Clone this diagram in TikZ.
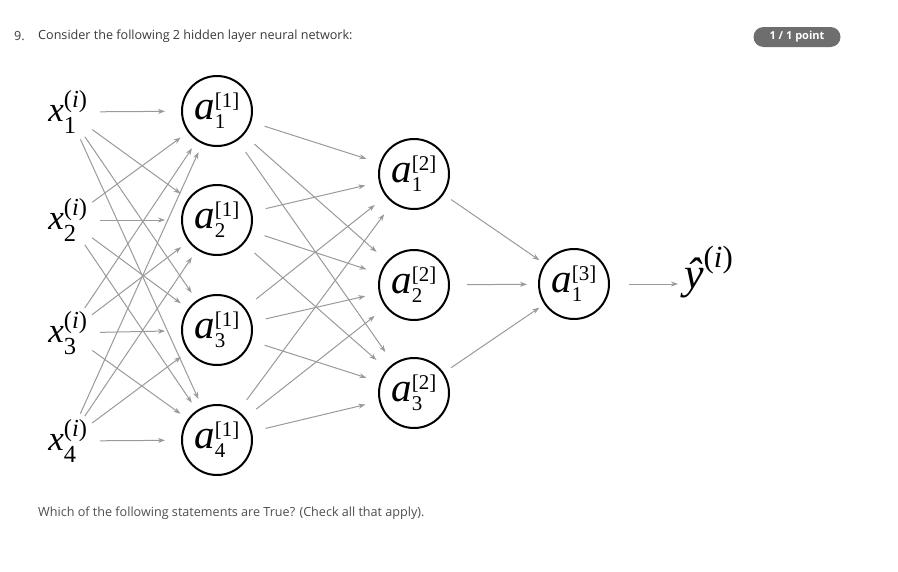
\documentclass[tikz,border=0pt]{standalone}
\usepackage{amsmath}
\usepackage{fontspec}
\setmainfont{Liberation Serif}
\newfontfamily\uifont{Open Sans}
\newfontfamily\labfont{Liberation Serif}
\usetikzlibrary{arrows.meta}
\DeclareMathSizes{41}{41}{21}{16}
\DeclareMathSizes{34}{34}{19}{14}
\DeclareMathSizes{42}{42}{24}{18}
\definecolor{arrowgray}{HTML}{9A9A9A}
\definecolor{uigray}{HTML}{3A3A3A}
\definecolor{uigraylight}{HTML}{4E4E4E}
\definecolor{badgegray}{HTML}{6E6E6E}
\newcommand\hidlab[2]{\fontsize{41}{44}\labfont\selectfont$\text{\labfont\itshape a}_{\text{\labfont #1}}^{\text{\labfont [#2]}}$}
\newcommand\inplab[1]{\fontsize{35}{38}\labfont\selectfont$\text{\labfont\itshape x}_{\text{\labfont #1}}^{\text{\labfont (\itshape i\upshape)}}$}
\begin{document}
\begin{tikzpicture}[x=1pt,y=-1pt,
  neuron/.style={circle,draw=black,line width=2pt,minimum size=70pt,inner sep=0pt},
  inputlab/.style={inner sep=0pt},
  conn/.style={draw=arrowgray,line width=1pt,-{Stealth[length=7pt,width=5pt]}},
  uitext/.style={anchor=west,inner sep=0pt,text=uigray,font=\uifont\fontsize{12.6}{15}\selectfont}]
\fill[white] (0,0) rectangle (898,571);
\useasboundingbox (0,0) rectangle (898,571);

% header
\node[uitext] (num) at (14,36) {9.};
\node[uitext] (ques) at (38,36) {Consider the following 2 hidden layer neural network:};
\node[fill=badgegray,rounded corners=10pt,minimum width=87pt,minimum height=20pt,inner sep=0pt,
      text=white,font=\uifont\bfseries\fontsize{11}{13}\selectfont] (pts) at (797,37) {1 / 1 point};
\node[uitext,text=uigraylight] (ques2) at (38,513) {Which of the following statements are True? (Check all that apply).};

% inputs
\node[inputlab] (x1) at (68,112) {\inplab{1}};
\node[inputlab] (x2) at (68,220) {\inplab{2}};
\node[inputlab] (x3) at (68,333) {\inplab{3}};
\node[inputlab] (x4) at (68,441) {\inplab{4}};

% layer 1
\node[neuron] (h1) at (217,111) {\hidlab{1}{1}};
\node[neuron] (h2) at (217,220) {\hidlab{2}{1}};
\node[neuron] (h3) at (217,330) {\hidlab{3}{1}};
\node[neuron] (h4) at (217,440) {\hidlab{4}{1}};

% layer 2
\node[neuron] (g1) at (414,174) {\hidlab{1}{2}};
\node[neuron] (g2) at (414,285) {\hidlab{2}{2}};
\node[neuron] (g3) at (414,393) {\hidlab{3}{2}};

% layer 3
\node[neuron] (o1) at (574,284) {\hidlab{1}{3}};

% output
\node[inputlab,anchor=west] (yhat) at (684,272) {\fontsize{44}{46}\labfont\selectfont$\text{\labfont\itshape ŷ}^{\text{\labfont (\itshape i\upshape)}}$};

% input -> layer 1
\foreach \i in {1,...,4}{
  \foreach \j in {1,...,4}{
    \ifnum\i=\j
      \draw[conn,shorten <=32pt,shorten >=52pt] (x\i.center) -- (h\j.center);
    \else
      \draw[conn,shorten <=30pt,shorten >=45pt] (x\i.center) -- (h\j.center);
    \fi
  }
}

% layer 1 -> layer 2
\foreach \i in {1,...,4}{
  \foreach \j in {1,...,3}{
    \draw[conn,shorten <=50pt,shorten >=50pt] (h\i.center) -- (g\j.center);
  }
}

% layer 2 -> layer 3
\draw[conn,shorten <=45pt,shorten >=42pt] (g1.center) -- (o1.center);
\draw[conn,shorten <=53pt,shorten >=47pt] (g2.center) -- (o1.center);
\draw[conn,shorten <=45pt,shorten >=42pt] (g3.center) -- (o1.center);

% layer 3 -> output
\draw[conn,shorten <=55pt,shorten >=6pt] (o1.center) -- (o1.center -| yhat.west);
\end{tikzpicture}
\end{document}
